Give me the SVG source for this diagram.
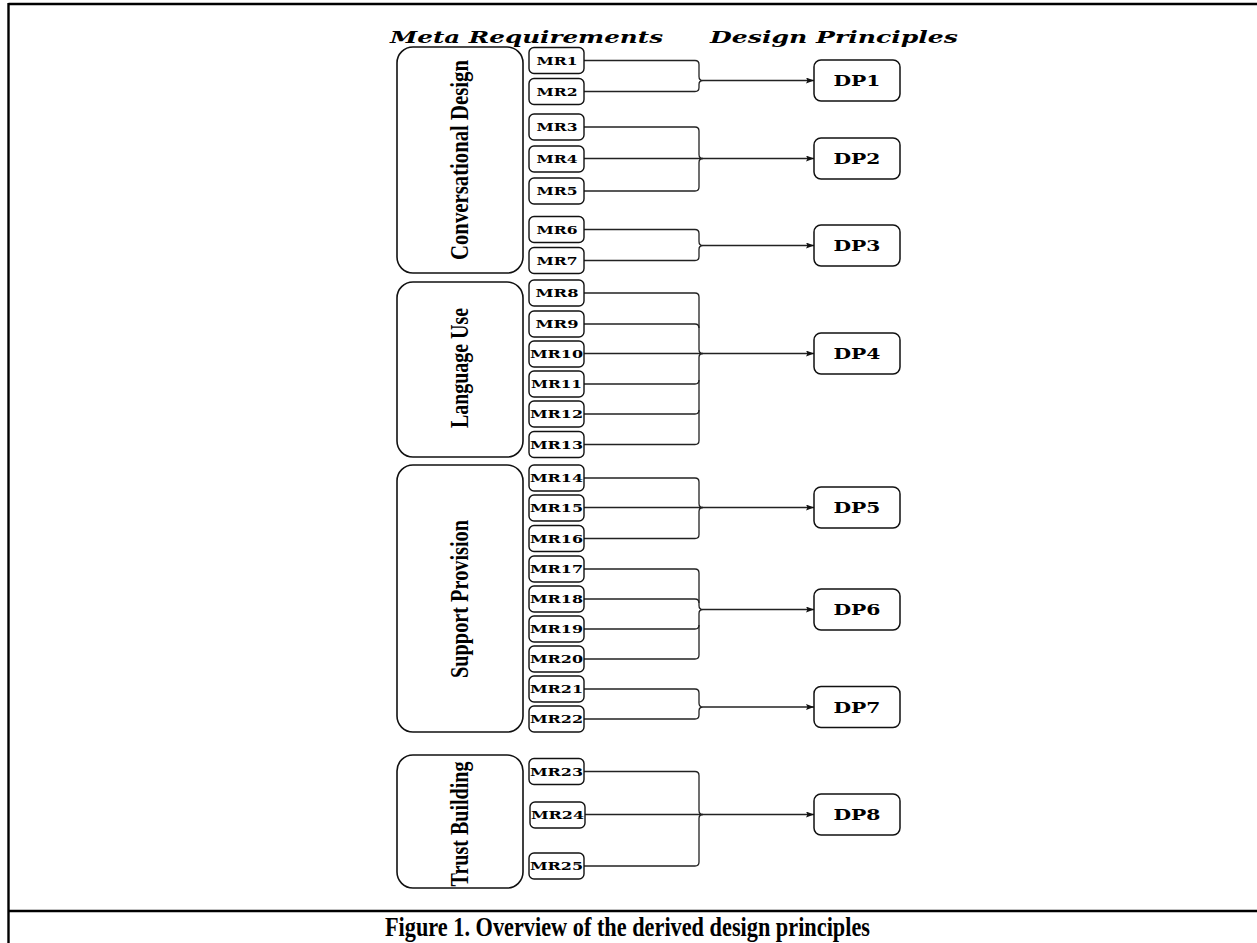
<svg xmlns="http://www.w3.org/2000/svg" width="1257" height="943" viewBox="0 0 1257 943">
<defs>
<style>
.frame{stroke:#000;stroke-width:2.4;fill:none}
.cat rect{fill:#fff;stroke:#111;stroke-width:1.6}
.cat text{font-family:"Liberation Serif",serif;font-weight:bold;font-size:22px;text-anchor:middle;fill:#000}
.mr rect{fill:#fff;stroke:#111;stroke-width:1.4}
.mr text{font-family:"DejaVu Serif",serif;font-weight:bold;font-size:11.5px;text-anchor:middle;fill:#000}
.dp rect{fill:#fff;stroke:#111;stroke-width:1.5}
.dp text{font-family:"DejaVu Serif",serif;font-weight:bold;font-size:15.5px;text-anchor:middle;fill:#000}
.hdr{font-family:"DejaVu Serif",serif;font-weight:bold;font-style:italic;font-size:16px;fill:#000}
.cap{font-family:"Liberation Serif",serif;font-weight:bold;font-size:27px;fill:#000}
#connectors path{fill:none;stroke:#222;stroke-width:1.3}
#connectors path.arr{marker-end:url(#ah)}
</style>
<marker id="ah" viewBox="0 0 8 6" refX="8" refY="3" markerWidth="8" markerHeight="6" markerUnits="userSpaceOnUse" orient="auto">
<path d="M0,0 L8,3 L0,6 L1.5,3 z" fill="#111"/>
</marker>
</defs>
<rect width="1257" height="943" fill="#fff"/>
<g id="frame">
<line class="frame" x1="8.5" y1="4" x2="1257" y2="4"/>
<line class="frame" x1="8.5" y1="3" x2="8.5" y2="943"/>
<line class="frame" x1="8.5" y1="911" x2="1257" y2="911"/>
</g>
<g id="headers">
<text class="hdr" x="390" y="43" textLength="273" lengthAdjust="spacingAndGlyphs">Meta Requirements</text>
<text class="hdr" x="710" y="43" textLength="248" lengthAdjust="spacingAndGlyphs">Design Principles</text>
</g>
<g id="cat-conversational" class="cat"><rect x="397" y="47" width="126" height="226" rx="16"/><text transform="translate(468,160) rotate(-90) scale(1,1.1)" textLength="200" lengthAdjust="spacingAndGlyphs">Conversational Design</text></g>
<g id="cat-language" class="cat"><rect x="397" y="282" width="126" height="175" rx="16"/><text transform="translate(468,368) rotate(-90) scale(1,1.1)" textLength="120" lengthAdjust="spacingAndGlyphs">Language Use</text></g>
<g id="cat-support" class="cat"><rect x="397" y="465" width="126" height="267" rx="16"/><text transform="translate(468,599) rotate(-90) scale(1,1.1)" textLength="158" lengthAdjust="spacingAndGlyphs">Support Provision</text></g>
<g id="cat-trust" class="cat"><rect x="397" y="755" width="126" height="133" rx="16"/><text transform="translate(468,824) rotate(-90) scale(1,1.1)" textLength="125" lengthAdjust="spacingAndGlyphs">Trust Building</text></g>
<g id="connectors">
<path d="M584,60.5 H695 Q699,60.5 699,64.5 V76.5 Q699,80.5 703,80.5 Q699,80.5 699,84.5 V87.5 Q699,91.5 695,91.5 H584"/>
<path class="arr" d="M703,80.5 H814"/>
<path d="M584,127 H695 Q699,127 699,131 V154.5 Q699,158.5 703,158.5 Q699,158.5 699,162.5 V187 Q699,191 695,191 H584"/>
<path d="M584,158.5 H703"/>
<path class="arr" d="M703,158.5 H814"/>
<path d="M584,229.5 H695 Q699,229.5 699,233.5 V241.5 Q699,245.5 703,245.5 Q699,245.5 699,249.5 V256.5 Q699,260.5 695,260.5 H584"/>
<path class="arr" d="M703,245.5 H814"/>
<path d="M584,293 H695 Q699,293 699,297 V349.5 Q699,353.5 703,353.5 Q699,353.5 699,357.5 V440.5 Q699,444.5 695,444.5 H584"/>
<path d="M584,324 H695 Q699,324 699,328"/>
<path d="M584,353.5 H703"/>
<path d="M584,384 H695 Q699,384 699,380"/>
<path d="M584,414 H695 Q699,414 699,410"/>
<path class="arr" d="M703,353.5 H814"/>
<path d="M584,478 H695 Q699,478 699,482 V503.5 Q699,507.5 703,507.5 Q699,507.5 699,511.5 V534.5 Q699,538.5 695,538.5 H584"/>
<path d="M584,507.5 H703"/>
<path class="arr" d="M703,507.5 H814"/>
<path d="M584,569 H695 Q699,569 699,573 V605.5 Q699,609.5 703,609.5 Q699,609.5 699,613.5 V655 Q699,659 695,659 H584"/>
<path d="M584,599 H695 Q699,599 699,603"/>
<path d="M584,629 H695 Q699,629 699,625"/>
<path class="arr" d="M703,609.5 H814"/>
<path d="M584,689 H695 Q699,689 699,693 V703 Q699,707 703,707 Q699,707 699,711 V715 Q699,719 695,719 H584"/>
<path class="arr" d="M703,707 H814"/>
<path d="M584,771.5 H695 Q699,771.5 699,775.5 V810.5 Q699,814.5 703,814.5 Q699,814.5 699,818.5 V862 Q699,866 695,866 H584"/>
<path d="M584,814.5 H703"/>
<path class="arr" d="M703,814.5 H814"/>
</g>
<g id="mr1" class="mr"><rect x="529" y="47.5" width="55" height="26" rx="5"/><text x="557" y="64.5" textLength="41" lengthAdjust="spacingAndGlyphs">MR1</text></g>
<g id="mr2" class="mr"><rect x="529" y="78.5" width="55" height="26" rx="5"/><text x="557" y="95.5" textLength="41" lengthAdjust="spacingAndGlyphs">MR2</text></g>
<g id="mr3" class="mr"><rect x="529" y="114" width="55" height="26" rx="5"/><text x="557" y="131" textLength="41" lengthAdjust="spacingAndGlyphs">MR3</text></g>
<g id="mr4" class="mr"><rect x="529" y="146" width="55" height="26" rx="5"/><text x="557" y="163" textLength="41" lengthAdjust="spacingAndGlyphs">MR4</text></g>
<g id="mr5" class="mr"><rect x="529" y="178" width="55" height="26" rx="5"/><text x="557" y="195" textLength="41" lengthAdjust="spacingAndGlyphs">MR5</text></g>
<g id="mr6" class="mr"><rect x="529" y="216.5" width="55" height="26" rx="5"/><text x="557" y="233.5" textLength="41" lengthAdjust="spacingAndGlyphs">MR6</text></g>
<g id="mr7" class="mr"><rect x="529" y="247.5" width="55" height="26" rx="5"/><text x="557" y="264.5" textLength="41" lengthAdjust="spacingAndGlyphs">MR7</text></g>
<g id="mr8" class="mr"><rect x="529" y="280" width="55" height="26" rx="5"/><text x="557" y="297" textLength="43" lengthAdjust="spacingAndGlyphs">MR8</text></g>
<g id="mr9" class="mr"><rect x="529" y="311" width="55" height="26" rx="5"/><text x="557" y="328" textLength="43" lengthAdjust="spacingAndGlyphs">MR9</text></g>
<g id="mr10" class="mr"><rect x="529" y="341" width="55" height="26" rx="5"/><text x="556.5" y="358" textLength="53" lengthAdjust="spacingAndGlyphs">MR10</text></g>
<g id="mr11" class="mr"><rect x="529" y="371" width="55" height="26" rx="5"/><text x="556.5" y="388" textLength="51" lengthAdjust="spacingAndGlyphs">MR11</text></g>
<g id="mr12" class="mr"><rect x="529" y="401" width="55" height="26" rx="5"/><text x="556.5" y="418" textLength="53" lengthAdjust="spacingAndGlyphs">MR12</text></g>
<g id="mr13" class="mr"><rect x="529" y="431.5" width="55" height="26" rx="5"/><text x="556.5" y="448.5" textLength="53" lengthAdjust="spacingAndGlyphs">MR13</text></g>
<g id="mr14" class="mr"><rect x="529" y="465" width="55" height="26" rx="5"/><text x="556.5" y="482" textLength="53" lengthAdjust="spacingAndGlyphs">MR14</text></g>
<g id="mr15" class="mr"><rect x="529" y="495" width="55" height="26" rx="5"/><text x="556.5" y="512" textLength="53" lengthAdjust="spacingAndGlyphs">MR15</text></g>
<g id="mr16" class="mr"><rect x="529" y="525.5" width="55" height="26" rx="5"/><text x="556.5" y="542.5" textLength="53" lengthAdjust="spacingAndGlyphs">MR16</text></g>
<g id="mr17" class="mr"><rect x="529" y="556" width="55" height="26" rx="5"/><text x="556.5" y="573" textLength="53" lengthAdjust="spacingAndGlyphs">MR17</text></g>
<g id="mr18" class="mr"><rect x="529" y="586" width="55" height="26" rx="5"/><text x="556.5" y="603" textLength="53" lengthAdjust="spacingAndGlyphs">MR18</text></g>
<g id="mr19" class="mr"><rect x="529" y="616" width="55" height="26" rx="5"/><text x="556.5" y="633" textLength="53" lengthAdjust="spacingAndGlyphs">MR19</text></g>
<g id="mr20" class="mr"><rect x="529" y="646" width="55" height="26" rx="5"/><text x="556.5" y="663" textLength="53" lengthAdjust="spacingAndGlyphs">MR20</text></g>
<g id="mr21" class="mr"><rect x="529" y="676" width="55" height="26" rx="5"/><text x="556.5" y="693" textLength="53" lengthAdjust="spacingAndGlyphs">MR21</text></g>
<g id="mr22" class="mr"><rect x="529" y="706" width="55" height="26" rx="5"/><text x="556.5" y="723" textLength="53" lengthAdjust="spacingAndGlyphs">MR22</text></g>
<g id="mr23" class="mr"><rect x="529" y="758.5" width="55" height="26" rx="5"/><text x="556.5" y="775.5" textLength="53" lengthAdjust="spacingAndGlyphs">MR23</text></g>
<g id="mr24" class="mr"><rect x="530" y="802" width="55" height="26" rx="5"/><text x="557.5" y="819" textLength="53" lengthAdjust="spacingAndGlyphs">MR24</text></g>
<g id="mr25" class="mr"><rect x="529" y="853" width="55" height="26" rx="5"/><text x="556.5" y="870" textLength="53" lengthAdjust="spacingAndGlyphs">MR25</text></g>
<g id="dp1" class="dp"><rect x="814" y="60" width="86" height="41" rx="7"/><text x="857" y="86" textLength="47" lengthAdjust="spacingAndGlyphs">DP1</text></g>
<g id="dp2" class="dp"><rect x="814" y="138" width="86" height="41" rx="7"/><text x="857" y="164" textLength="47" lengthAdjust="spacingAndGlyphs">DP2</text></g>
<g id="dp3" class="dp"><rect x="814" y="225" width="86" height="41" rx="7"/><text x="857" y="251" textLength="47" lengthAdjust="spacingAndGlyphs">DP3</text></g>
<g id="dp4" class="dp"><rect x="814" y="333" width="86" height="41" rx="7"/><text x="857" y="359" textLength="47" lengthAdjust="spacingAndGlyphs">DP4</text></g>
<g id="dp5" class="dp"><rect x="814" y="487" width="86" height="41" rx="7"/><text x="857" y="513" textLength="47" lengthAdjust="spacingAndGlyphs">DP5</text></g>
<g id="dp6" class="dp"><rect x="814" y="589" width="86" height="41" rx="7"/><text x="857" y="615" textLength="47" lengthAdjust="spacingAndGlyphs">DP6</text></g>
<g id="dp7" class="dp"><rect x="814" y="686.5" width="86" height="41" rx="7"/><text x="857" y="712.5" textLength="47" lengthAdjust="spacingAndGlyphs">DP7</text></g>
<g id="dp8" class="dp"><rect x="814" y="794" width="86" height="41" rx="7"/><text x="857" y="820" textLength="47" lengthAdjust="spacingAndGlyphs">DP8</text></g>
<text class="cap" x="385" y="936" textLength="485" lengthAdjust="spacingAndGlyphs">Figure 1. Overview of the derived design principles</text>
</svg>
